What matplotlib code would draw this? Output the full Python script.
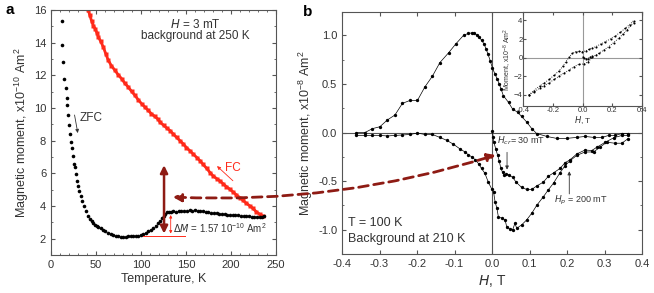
import matplotlib
matplotlib.use("Agg")
import matplotlib.pyplot as plt
from matplotlib.patches import FancyArrowPatch
from matplotlib.ticker import MultipleLocator, FormatStrFormatter

plt.rcParams['font.family'] = ['Liberation Sans', 'DejaVu Sans']
plt.rcParams['mathtext.default'] = 'regular'

DARK = '#333333'
DRED = '#8e1b14'
RED = '#ff2a1a'

# --- panel a: ZFC / FC magnetisation vs temperature ---
zfc_t = [11.9, 12.6, 13.7, 14.8, 16.3, 17.4, 18.1, 19.2, 20.0, 21.1, 22.2, 23.7, 24.1, 25.5,
         26.7, 27.8, 29.2, 30.4, 31.5, 33.0, 34.8, 36.7, 38.9, 41.5, 43.5, 45.2, 47.0, 48.9,
         51.0, 52.6, 55.0, 58.0, 60.5, 63.7, 66.5, 69.2, 72.0, 74.8, 77.5, 80.3, 83.0, 85.9,
         88.5, 91.5, 94.3, 97.0, 100.0, 102.6, 105.5, 108.1, 111.0, 113.7, 116.5, 119.2, 121.0,
         123.0, 125.0, 127.0, 129.0, 131.0, 133.0, 136.0, 139.0, 142.0, 145.0, 148.0, 151.0,
         154.0, 157.0, 160.0, 163.0, 166.0, 169.0, 172.0, 175.0, 178.0, 181.0, 184.0, 187.0,
         190.0, 193.0, 196.0, 199.0, 202.0, 205.0, 208.0, 211.0, 214.0, 217.0, 220.0, 223.0,
         226.0, 229.0, 232.0, 235.0, 237.0]
zfc_m = [15.32, 13.85, 12.8, 11.8, 11.2, 10.64, 10.17, 9.6, 8.98, 8.41, 7.95, 7.58, 7.07, 6.6,
         6.36, 5.95, 5.53, 5.22, 4.9, 4.6, 4.3, 4.0, 3.68, 3.37, 3.2, 3.07, 2.96, 2.86,
         2.76, 2.70, 2.63, 2.55, 2.46, 2.35, 2.30, 2.25, 2.19, 2.14, 2.11, 2.08, 2.12, 2.14,
         2.15, 2.18, 2.17, 2.18, 2.22, 2.28, 2.36, 2.45, 2.55, 2.65, 2.80, 2.96, 3.10,
         3.27, 3.40, 3.52, 3.62, 3.66, 3.64, 3.68, 3.66, 3.70, 3.68, 3.72, 3.70,
         3.73, 3.72, 3.74, 3.72, 3.70, 3.68, 3.66, 3.62, 3.60, 3.57, 3.55, 3.52,
         3.50, 3.49, 3.47, 3.47, 3.45, 3.42, 3.43, 3.40, 3.39, 3.38, 3.37, 3.35,
         3.34, 3.32, 3.33, 3.31, 3.36]

fc_t = [41.5, 43, 45, 47, 48.9, 51, 52.6, 55, 58.1, 61, 63.7, 67, 71.1, 74.5, 78.5, 82, 85.9,
        89.5, 93.3, 97, 100.7, 104.5, 108.1, 111.5, 115, 119.2, 121.1, 125, 128.5, 132.2, 136,
        139.5, 143.3, 147, 150.5, 154.4, 158, 162, 165.6, 169, 173, 176.7, 180, 184, 187.8,
        191.5, 195, 198.9, 202.5, 206, 210, 213.5, 217, 221.1, 224.5, 228, 232.2, 235.9]
fc_m = [16.0, 15.7, 15.35, 15.05, 14.87, 14.6, 14.36, 14.1, 13.74, 13.3, 12.92, 12.6, 12.3,
        12.05, 11.79, 11.52, 11.28, 11.02, 10.77, 10.5, 10.26, 10.05, 9.85, 9.65, 9.5, 9.30,
        9.13, 8.95, 8.78, 8.62, 8.40, 8.20, 8.0, 7.80, 7.58, 7.38, 7.18, 6.97, 6.77, 6.55,
        6.30, 6.05, 5.85, 5.68, 5.53, 5.35, 5.18, 5.02, 4.85, 4.68, 4.51, 4.34, 4.17, 4.0,
        3.85, 3.65, 3.48, 3.38]

# --- panel b: hysteresis at 100 K (background subtracted) ---
h_up = [-0.362, -0.339, -0.319, -0.299, -0.279, -0.259, -0.239, -0.219, -0.199, -0.179, -0.159,
        -0.139, -0.116, -0.097, -0.076, -0.063, -0.054, -0.047, -0.041, -0.035, -0.028, -0.021,
        -0.016, -0.011, -0.005, 0.001, 0.008, 0.014, 0.019, 0.024, 0.030, 0.044, 0.055, 0.068,
        0.079, 0.092, 0.106, 0.119, 0.146, 0.172, 0.199, 0.226, 0.248, 0.271, 0.293, 0.311,
        0.328, 0.346, 0.362]
m_up = [0.0, 0.0, 0.04, 0.06, 0.13, 0.18, 0.30, 0.33, 0.33, 0.47, 0.58,
        0.72, 0.82, 0.91, 1.00, 1.02, 1.025, 1.02, 1.005, 0.985, 0.95, 0.91,
        0.86, 0.81, 0.74, 0.665, 0.60, 0.55, 0.50, 0.45, 0.38, 0.31, 0.24, 0.21,
        0.165, 0.11, 0.04, -0.01, -0.04, -0.06, -0.06, -0.05, -0.04, -0.05, -0.05, -0.03,
        -0.03, -0.01, -0.01]

h_low = [-0.362, -0.339, -0.319, -0.299, -0.279, -0.259, -0.239, -0.219, -0.199, -0.179, -0.159,
         -0.139, -0.121, -0.103, -0.085, -0.072, -0.063, -0.054, -0.045, -0.036, -0.028, -0.019,
         -0.010, -0.001, 0.004, 0.008, 0.013, 0.017, 0.026, 0.035, 0.039, 0.048, 0.055, 0.061,
         0.066, 0.079, 0.092, 0.106, 0.119, 0.137, 0.150, 0.164, 0.181, 0.195, 0.208, 0.226,
         0.248, 0.271, 0.288, 0.306, 0.328, 0.346, 0.362]
m_low = [-0.03, -0.03, -0.03, -0.03, -0.035, -0.03, -0.025, -0.02, -0.005, -0.02, -0.02,
         -0.05, -0.08, -0.12, -0.17, -0.20, -0.23, -0.25, -0.28, -0.32, -0.37, -0.42,
         -0.51, -0.58, -0.61, -0.71, -0.78, -0.87, -0.88, -0.90, -0.97, -0.995, -1.0, -0.935,
         -0.985, -0.95, -0.90, -0.83, -0.75, -0.66, -0.59, -0.52, -0.415, -0.34, -0.29, -0.235,
         -0.20, -0.20, -0.15, -0.10, -0.11, -0.11, -0.065]

h_vir = [0.001, 0.003, 0.005, 0.010, 0.015, 0.019, 0.023, 0.028, 0.033, 0.038, 0.046, 0.055,
         0.064, 0.079, 0.092, 0.106, 0.119, 0.137, 0.150, 0.164, 0.181, 0.195, 0.208, 0.226,
         0.248, 0.266, 0.280, 0.302, 0.324, 0.346, 0.362]
m_vir = [0.02, -0.05, -0.10, -0.17, -0.235, -0.29, -0.36, -0.41, -0.44, -0.425, -0.44, -0.46,
         -0.51, -0.565, -0.585, -0.585, -0.55, -0.51, -0.45, -0.415, -0.37, -0.31, -0.28, -0.22,
         -0.18, -0.185, -0.15, -0.10, -0.055, -0.03, -0.03]

# --- inset: raw loop ---
hi_up = [-0.362, -0.33, -0.29, -0.258, -0.225, -0.19, -0.158, -0.135, -0.113, -0.091, -0.07,
         -0.047, -0.025, -0.002, 0.02, 0.042, 0.065, 0.087, 0.12, 0.153, 0.187, 0.22, 0.253,
         0.287, 0.315, 0.342]
mi_up = [-4.0, -3.55, -3.05, -2.7, -2.33, -1.85, -1.40, -0.95, -0.43, 0.05, 0.45,
         0.65, 0.66, 0.65, 0.72, 0.9, 1.02, 1.18, 1.45, 1.72, 2.02, 2.34, 2.74,
         3.16, 3.55, 3.98]
hi_low = [-0.362, -0.33, -0.29, -0.258, -0.225, -0.19, -0.158, -0.125, -0.091, -0.058, -0.025,
          0.009, 0.038, 0.065, 0.087, 0.109, 0.142, 0.175, 0.208, 0.242, 0.27, 0.298, 0.342]
mi_low = [-4.0, -3.7, -3.3, -3.0, -2.69, -2.33, -1.97, -1.65, -1.32, -0.97, -0.71,
          -0.68, -0.43, 0.04, 0.27, 0.47, 0.82, 1.18, 1.62, 2.08, 2.52, 2.98, 3.77]
hi_vir = [0.0, 0.01, 0.02, 0.033, 0.047, 0.065]
mi_vir = [0.1, -0.05, -0.17, -0.1, 0.04, 0.2]


def style_axes(ax, size=8):
    for s in ax.spines.values():
        s.set_color('#555555')
        s.set_linewidth(0.8)
    ax.tick_params(which='both', direction='in', top=True, right=True,
                   colors='#555555', labelcolor=DARK, labelsize=size)
    ax.tick_params(which='major', length=3)
    ax.tick_params(which='minor', length=1.6)


fig = plt.figure(figsize=(6.54, 2.93), dpi=100)

# panel a
axa = fig.add_axes([0.078, 0.1297, 0.344, 0.836])
axa.plot(fc_t, fc_m, color=RED, lw=2.0, marker='s', ms=2.4, mec='none')
axa.plot(zfc_t, zfc_m, 'o', color='black', ms=2.6, mec='none')
axa.set_xlim(0, 250)
axa.set_ylim(1, 16)
axa.xaxis.set_major_locator(MultipleLocator(50))
axa.xaxis.set_minor_locator(MultipleLocator(10))
axa.yaxis.set_major_locator(MultipleLocator(2))
axa.yaxis.set_minor_locator(MultipleLocator(1))
style_axes(axa)
axa.set_xlabel('Temperature, K', fontsize=9, color=DARK, labelpad=2)
axa.set_ylabel('Magnetic moment, x10$^{-10}$ Am$^2$', fontsize=9, color=DARK, labelpad=2)

axa.text(160, 15.12, '$\\mathit{H}$ = 3 mT', ha='center', va='center', fontsize=8.5, color=DARK)
axa.text(160, 14.42, 'background at 250 K', ha='center', va='center', fontsize=8.5, color=DARK)
axa.annotate('', xy=(30.3, 8.3), xytext=(25.6, 9.74),
             arrowprops=dict(arrowstyle='-|>', color=DARK, lw=0.6, mutation_scale=5))
axa.text(32, 9.38, 'ZFC', ha='left', va='center', fontsize=8.5, color=DARK)
axa.annotate('', xy=(182.2, 6.56), xytext=(204.4, 5.43),
             arrowprops=dict(arrowstyle='-|>', color=RED, lw=0.6, mutation_scale=5))
axa.text(193, 6.35, 'FC', ha='left', va='center', fontsize=8.5, color=RED)
axa.annotate('', xy=(125.6, 6.67), xytext=(125.6, 2.14),
             arrowprops=dict(arrowstyle='<|-|>', color=DRED, lw=1.8, mutation_scale=11))
axa.plot([102, 149], [2.14, 2.14], color=RED, lw=0.7)
axa.annotate('', xy=(133, 3.62), xytext=(133, 2.14),
             arrowprops=dict(arrowstyle='<|-|>', color=RED, lw=0.6, mutation_scale=4))
axa.text(135.5, 2.62, '$\\mathit{\\Delta M}$ = 1.57 10$^{-10}$ Am$^2$', ha='left', va='center',
         fontsize=7, color=DARK)

# panel b
axb = fig.add_axes([0.523, 0.133, 0.4587, 0.826])
axb.axhline(0, color='#555555', lw=0.8, zorder=1)
axb.axvline(0, color='#555555', lw=0.8, zorder=1)
for h, m in [(h_up, m_up), (h_low, m_low), (h_vir, m_vir)]:
    axb.plot(h, m, '-o', color='black', lw=0.5, ms=2.4, mec='none')
axb.set_xlim(-0.4, 0.4)
axb.set_ylim(-1.25, 1.24)
axb.xaxis.set_major_locator(MultipleLocator(0.1))
axb.yaxis.set_major_locator(MultipleLocator(0.5))
axb.yaxis.set_minor_locator(MultipleLocator(0.25))
axb.xaxis.set_major_formatter(FormatStrFormatter('%.1f'))
axb.yaxis.set_major_formatter(FormatStrFormatter('%.1f'))
style_axes(axb)
axb.set_xlabel('$\\mathit{H}$, T', fontsize=10, color=DARK, labelpad=3)
axb.set_ylabel('Magnetic moment, x10$^{-8}$ Am$^2$', fontsize=9, color=DARK, labelpad=2)
axb.text(-0.384, -0.93, 'T = 100 K', ha='left', va='center', fontsize=9, color=DARK)
axb.text(-0.384, -1.10, 'Background at 210 K', ha='left', va='center', fontsize=9, color=DARK)
axb.text(0.013, -0.082, '$\\mathit{H_{cr}}$= 30 mT', ha='left', va='center', fontsize=6.5, color=DARK)
axb.annotate('', xy=(0.04, -0.41), xytext=(0.04, -0.175),
             arrowprops=dict(arrowstyle='-|>', color=DARK, lw=0.6, mutation_scale=5))
axb.text(0.165, -0.70, '$\\mathit{H_p}$ = 200 mT', ha='left', va='center', fontsize=6.5, color=DARK)
axb.annotate('', xy=(0.206, -0.37), xytext=(0.206, -0.66),
             arrowprops=dict(arrowstyle='-|>', color=DARK, lw=0.6, mutation_scale=5))

# inset
axi = fig.add_axes([0.800, 0.638, 0.182, 0.321])
axi.axhline(0, color='#999999', lw=0.8, zorder=1)
axi.axvline(0, color='#999999', lw=0.8, zorder=1)
for h, m in [(hi_up, mi_up), (hi_low, mi_low), (hi_vir, mi_vir)]:
    axi.plot(h, m, ':o', color='black', lw=0.6, ms=1.5, mec='none')
axi.set_xlim(-0.4, 0.4)
axi.set_ylim(-5.2, 4.9)
axi.xaxis.set_major_locator(MultipleLocator(0.2))
axi.yaxis.set_major_locator(MultipleLocator(2))
axi.xaxis.set_major_formatter(FormatStrFormatter('%.1f'))
style_axes(axi, size=5.5)
axi.tick_params(which='major', length=2.5, pad=1)
axi.tick_params(axis='y', pad=0.5)
axi.set_xlabel('$\\mathit{H}$, T', fontsize=6, color=DARK, labelpad=0)
axi.set_ylabel('Moment, x10$^{-8}$ Am$^2$', fontsize=5, color=DARK, labelpad=-0.5)

# dashed link between the two panels
link = FancyArrowPatch((0.26, 0.328), (0.762, 0.474), transform=fig.transFigure,
                       arrowstyle='<|-|>', mutation_scale=12, color=DRED, lw=2,
                       linestyle=(0, (3.5, 2)), connectionstyle='arc3,rad=0.09')
fig.patches.append(link)

fig.text(0.008, 0.965, 'a', fontsize=11, fontweight='bold', ha='left', va='center')
fig.text(0.463, 0.958, 'b', fontsize=11, fontweight='bold', ha='left', va='center')

fig.savefig('out.png', dpi=100)
